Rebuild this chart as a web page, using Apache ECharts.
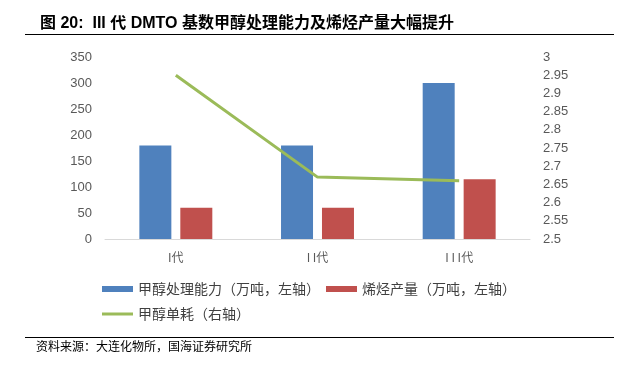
<!DOCTYPE html>
<html><head><meta charset="utf-8">
<script src="https://cdn.jsdelivr.net/npm/echarts@6/dist/echarts.min.js"></script>
<style>html,body{margin:0;padding:0;background:#fff}#c{width:619px;height:367px}</style>
</head><body><div id="c"></div>
<script>
var categories = ['I代', 'I I代', 'I I I代'];
var methanolCapacity = [180, 180, 300];
var olefinOutput = [60, 60, 115];
var methanolConsumption = [2.95, 2.67, 2.66];
var leftTicks = {min: 0, max: 350, interval: 50};
var rightTicks = {min: 2.5, max: 3, interval: 0.05};
var titleText = '图 20:  III 代 DMTO 基数甲醇处理能力及烯烃产量大幅提升';
var sourceText = '资料来源：大连化物所，国海证券研究所';
var names = ['甲醇处理能力（万吨，左轴）', '烯烃产量（万吨，左轴）', '甲醇单耗（右轴）'];

var chart = echarts.init(document.getElementById('c'), null, {renderer: 'canvas'});
chart.setOption({
  animation: false,
  backgroundColor: '#fff',
  title: {
    text: titleText, left: 35, top: 11,
    textStyle: {fontSize: 16, fontWeight: 'bold', color: '#000', fontFamily: '"Liberation Sans", "Noto Sans CJK SC", sans-serif'}
  },
  graphic: [
    {type: 'line', shape: {x1: 25, y1: 34.5, x2: 614, y2: 34.5}, style: {stroke: '#000', lineWidth: 1.2}},
    {type: 'line', shape: {x1: 25, y1: 337.5, x2: 614, y2: 337.5}, style: {stroke: '#000', lineWidth: 1.2}},
    {type: 'text', left: 36, top: 340, style: {text: sourceText, fontSize: 12, fill: '#000', fontFamily: '"Noto Sans CJK SC", sans-serif'}}
  ],
  legend: [
    {data: [names[0], names[1]], left: 97, top: 277, itemWidth: 31, itemHeight: 6, itemGap: 6, icon: 'rect',
     textStyle: {fontSize: 14, color: '#404040', fontFamily: '"Noto Sans CJK SC", sans-serif'}},
    {data: [{name: names[2], icon: 'rect'}], left: 97, top: 302, itemWidth: 31, itemHeight: 3, itemGap: 6,
     textStyle: {fontSize: 14, color: '#404040', fontFamily: '"Noto Sans CJK SC", sans-serif'}}
  ],
  grid: {left: 105, right: 89, top: 57, bottom: 128, containLabel: false},
  xAxis: {
    type: 'category', data: categories,
    axisLine: {lineStyle: {color: '#d9d9d9', width: 1}},
    axisTick: {show: false},
    axisLabel: {margin: 12, fontSize: 12, color: '#595959', fontFamily: '"Noto Sans CJK SC", sans-serif'}
  },
  yAxis: [
    {type: 'value', min: leftTicks.min, max: leftTicks.max, interval: leftTicks.interval,
     axisLine: {show: false}, axisTick: {show: false}, splitLine: {show: false},
     axisLabel: {margin: 13, fontSize: 13, color: '#595959', fontFamily: '"Liberation Sans", sans-serif'}},
    {type: 'value', min: rightTicks.min, max: rightTicks.max, interval: rightTicks.interval, position: 'right',
     axisLine: {show: false}, axisTick: {show: false}, splitLine: {show: false},
     axisLabel: {margin: 13, fontSize: 13, color: '#595959', fontFamily: '"Liberation Sans", sans-serif',
       formatter: function (v) { return String(parseFloat(v.toFixed(2))); }}}
  ],
  series: [
    {name: names[0], type: 'bar', data: methanolCapacity, barWidth: 32, barGap: '28%', itemStyle: {color: '#4F81BD'}},
    {name: names[1], type: 'bar', data: olefinOutput, barWidth: 32, itemStyle: {color: '#C0504D'}},
    {name: names[2], type: 'line', yAxisIndex: 1, data: methanolConsumption, symbol: 'none',
     lineStyle: {color: '#9BBB59', width: 3}, itemStyle: {color: '#9BBB59'}}
  ]
});
</script></body></html>
